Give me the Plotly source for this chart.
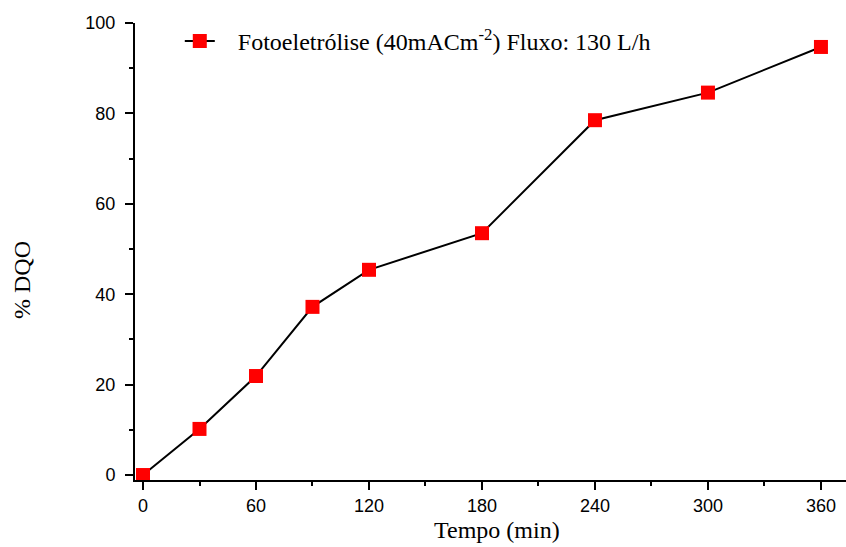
import plotly.graph_objects as go

tempo = [0, 30, 60, 90, 120, 180, 240, 300, 360]
dqo = [0, 10.2, 21.9, 37.2, 45.4, 53.5, 78.5, 84.6, 94.7]
x_ticks = [0, 60, 120, 180, 240, 300, 360]
y_ticks = [0, 20, 40, 60, 80, 100]

fig = go.Figure()
fig.add_trace(go.Scatter(
    x=tempo, y=dqo, mode="lines+markers",
    name="\u00a0\u00a0\u00a0Fotoeletrólise (40mACm<sup>-2</sup>) Fluxo: 130 L/h",
    line=dict(color="black", width=2),
    marker=dict(symbol="square", size=14, color="#ff0000", line=dict(width=0)),
    cliponaxis=False,
))

axis_common = dict(
    showgrid=False, zeroline=False, showline=True, linecolor="black", linewidth=2,
    ticks="outside", ticklen=8, tickwidth=2, tickcolor="black",
    tickfont=dict(family="Liberation Sans, Arial", size=18, color="black"),
)
fig.update_xaxes(range=[-4.25, 373.3], tickvals=x_ticks,
                 minor=dict(tickvals=[30, 90, 150, 210, 270, 330], ticklen=4, tickwidth=2, tickcolor="black", ticks="outside"),
                 **axis_common)
fig.update_yaxes(range=[-1.1, 100], tickvals=y_ticks, ticklabelstandoff=6,
                 minor=dict(tickvals=[10, 30, 50, 70, 90], ticklen=4, tickwidth=2, tickcolor="black", ticks="outside"),
                 **axis_common)

serif = "Liberation Serif, Times New Roman"
fig.add_annotation(text="Tempo (min)", xref="paper", yref="paper", x=(497-135)/711, y=-(530-480)/457,
                   showarrow=False, font=dict(family=serif, size=24, color="black"),
                   yanchor="middle")
fig.add_annotation(text="% DQO", xref="paper", yref="paper", x=-(135-22)/711, y=(480-280)/457,
                   showarrow=False, textangle=-90, font=dict(family=serif, size=24, color="black"),
                   xanchor="center")

fig.update_layout(
    width=846, height=547,
    margin=dict(l=135, r=0, t=23, b=67),
    plot_bgcolor="white", paper_bgcolor="white",
    showlegend=True,
    legend=dict(x=0.063, y=1.009, xanchor="left", yanchor="top", bgcolor="rgba(0,0,0,0)",
                font=dict(family=serif, size=24, color="black")),
)
fig.write_html("out.html")
